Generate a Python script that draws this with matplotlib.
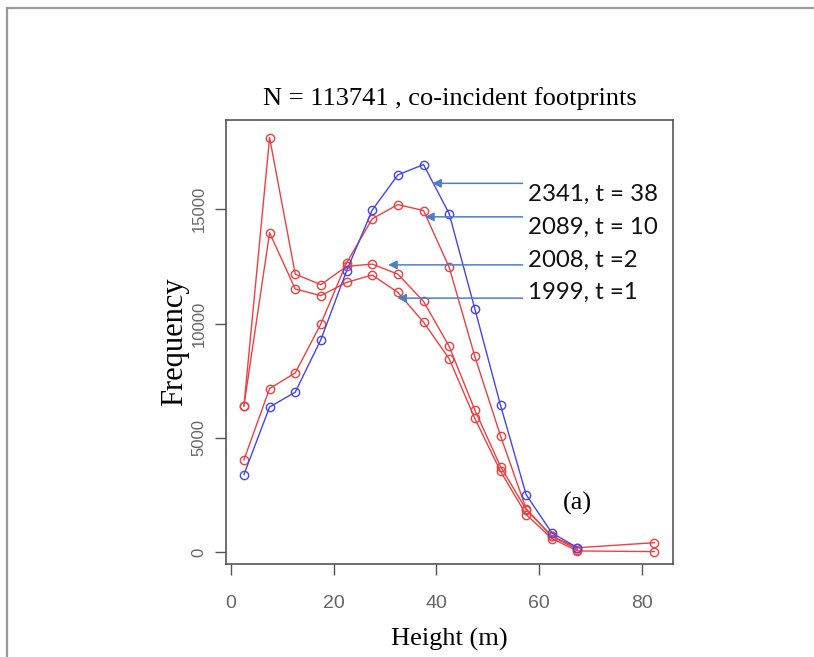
import matplotlib
matplotlib.use("Agg")
import matplotlib.pyplot as plt
from matplotlib.lines import Line2D
from matplotlib import font_manager

# ---- data ----
heights = [2.5, 7.5, 12.5, 17.5, 22.5, 27.5, 32.5, 37.5, 42.5, 47.5, 52.5, 57.5, 62.5, 67.5, 82.5]
freq_2341 = [3400, 6350, 7000, 9300, 12300, 14960, 16500, 16950, 14800, 10640, 6430, 2520, 850, 200]
freq_2008 = [6400, 18130, 12160, 11700, 12500, 12600, 12160, 10970, 9000, 6220, 3750, 1870, 700, 200, 420]
freq_1999 = [6400, 13970, 11510, 11220, 11800, 12120, 11360, 10060, 8460, 5850, 3540, 1650, 600, 60, 30]
freq_2089 = [4040, 7160, 7840, 9990, 12650, 14580, 15200, 14940, 12460, 8560, 5090, 1900, 700, 120]

labels = ["2341, t = 38", "2089, t = 10", "2008, t =2", "1999, t =1"]
arrow_heads = [(39.2, 16130), (37.8, 14665), (30.6, 12565), (32.4, 11110)]
label_y = [15670, 14220, 12780, 11350]

xticks = [0, 20, 40, 60, 80]
yticks = [0, 5000, 10000, 15000]

title = "N = 113741 , co-incident footprints"

# ---- fonts ----
names = {f.name for f in font_manager.fontManager.ttflist}
narrow = "Liberation Sans Narrow" if "Liberation Sans Narrow" in names else "Liberation Sans"
tick_font = [narrow, "DejaVu Sans"]
serif = ["Liberation Serif", "DejaVu Serif"]

# ---- figure ----
fig = plt.figure(figsize=(8.14, 6.57), dpi=100)
ax = fig.add_axes([0.2776, 0.1416, 0.5491, 0.6758])

red = "#EE4040"
blue = "#4545E8"
ms = 6.0
lw = 1.0

def series(y, c):
    ax.plot(heights[:len(y)], y, color=c, lw=lw, marker="o", ms=ms,
            mfc="none", mec=c, mew=1.0)

series(freq_2008, red)
series(freq_1999, red)
series(freq_2089, red)
series(freq_2341, blue)

ax.set_xlim(-1.0, 86.1)
ax.set_ylim(-510, 18900)

ax.set_xticks(xticks)
ax.set_yticks(yticks)
ax.set_xticklabels([str(v) for v in xticks], fontfamily=tick_font, fontsize=14, color="#666666")
ax.set_yticklabels([str(v) for v in yticks], fontfamily=tick_font, fontsize=12, color="#666666",
                   rotation=90, va="center")
ax.tick_params(axis="both", direction="out", length=8, width=1, color="#555555")
ax.tick_params(axis="x", pad=14)
ax.tick_params(axis="y", pad=6)

for s in ax.spines.values():
    s.set_color("#555555")
    s.set_linewidth(1.2)

ax.set_xlabel("Height (m)", fontfamily=serif, fontsize=19, labelpad=12)
ax.set_ylabel("Frequency", fontfamily=serif, fontsize=22, labelpad=2)
ax.set_title(title, fontfamily=serif, fontsize=19, pad=11)

# annotations
arrow_col = "#4F7FC0"
for lab, (hx, hy), ty in zip(labels, arrow_heads, label_y):
    ax.annotate("", xy=(hx, hy), xytext=(56.8, hy),
                arrowprops=dict(arrowstyle="-|>", color=arrow_col, lw=1.1,
                                mutation_scale=13, shrinkA=0, shrinkB=0))
    ax.text(57.8, ty, lab, fontfamily=["Lato", "DejaVu Sans"], fontsize=17.3,
            ha="left", va="center", color="#111111")

ax.text(67.4, 2140, "(a)", fontfamily=serif, fontsize=19, ha="center", va="center")

# outer frame (top and left gray lines)
fig.add_artist(Line2D([7 / 814, 1.0], [1 - 7.5 / 657, 1 - 7.5 / 657],
                      transform=fig.transFigure, color="#999999", lw=1.6))
fig.add_artist(Line2D([7 / 814, 7 / 814], [0, 1 - 7.5 / 657],
                      transform=fig.transFigure, color="#999999", lw=1.6))

fig.savefig("out.png", dpi=100)
